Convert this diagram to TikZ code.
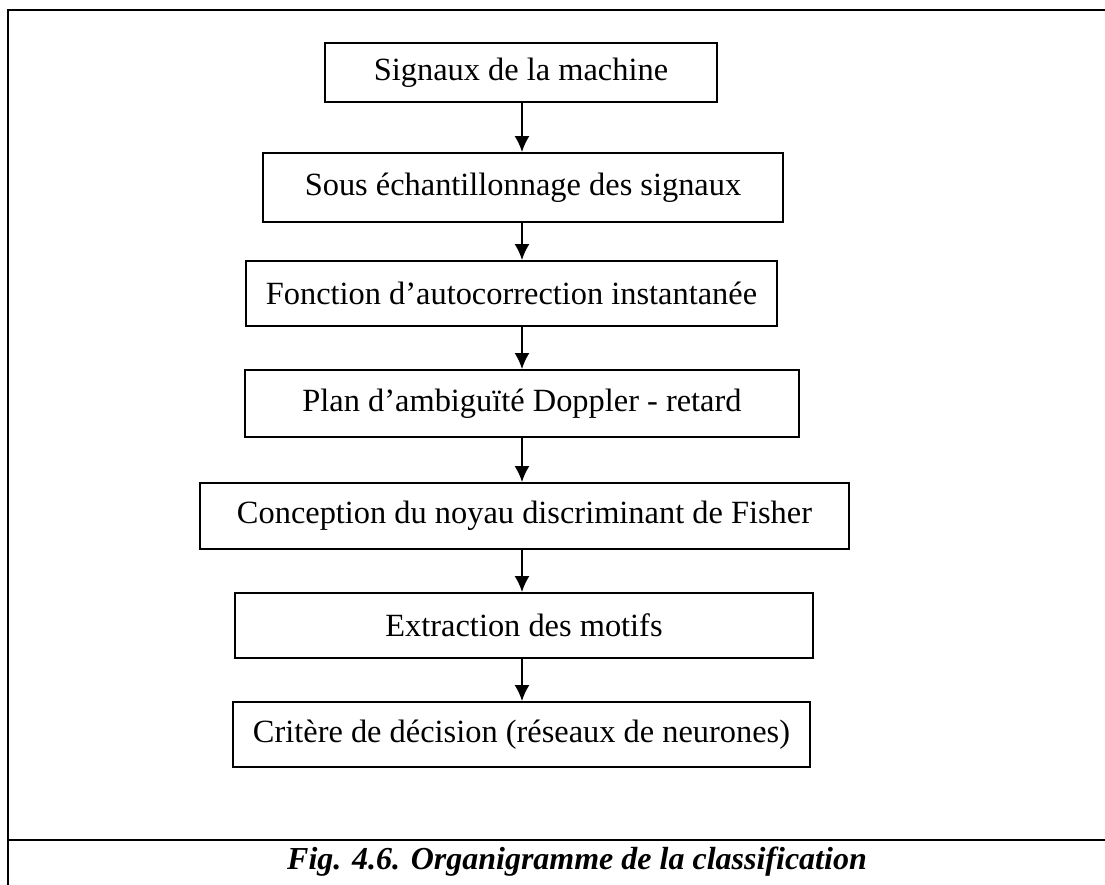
\documentclass[tikz,border=0pt]{standalone}
\usepackage{fontspec}
\setmainfont{Liberation Serif}
\usetikzlibrary{arrows.meta}
\tikzstyle{block} = [rectangle, draw, line width=1pt, inner sep=0pt, minimum height=33pt, font=\fontsize{16.2}{19}\selectfont]
\tikzstyle{frame} = [line width=1.4pt]

\begin{document}
\begin{tikzpicture}[x=0.5pt, y=-0.5pt, >={Latex[length=8pt,width=7.5pt]}]
        \useasboundingbox (0,0) rectangle (1105,885);
        % outer frame and caption line
        \draw[frame] (8,890) -- (8,10) -- (1110,10);
        \draw[frame] (8,840) -- (1110,840);

        \node[block, minimum width=196pt, minimum height=29.5pt] (signaux) at (521,72.5) {Signaux de la machine};
        \node[block, minimum width=260pt, minimum height=34.5pt] (sousech) at (523,187.5) {Sous échantillonnage des signaux};
        \node[block, minimum width=265.5pt, minimum height=32.5pt] (autocorr) at (511.5,293.5) {Fonction d’autocorrection instantanée};
        \node[block, minimum width=277pt, minimum height=33.5pt] (ambig) at (522,403.5) {Plan d’ambiguïté Doppler - retard};
        \node[block, minimum width=324.5pt] (noyau) at (524.5,516) {Conception du noyau discriminant de Fisher};
        \node[block, minimum width=289pt, minimum height=32.5pt] (motifs) at (524,625.5) {Extraction des motifs};
        \node[block, minimum width=288.5pt, minimum height=32.5pt] (decision) at (521.5,734.5) {Critère de décision (réseaux de neurones)};

        \coordinate (axis) at (522,0);
        \draw[->, line width=0.8pt] (signaux.south -| axis) -- (sousech.north -| axis);
        \draw[->, line width=0.8pt] (sousech.south -| axis) -- (autocorr.north -| axis);
        \draw[->, line width=0.8pt] (autocorr.south -| axis) -- (ambig.north -| axis);
        \draw[->, line width=0.8pt] (ambig.south -| axis) -- (noyau.north -| axis);
        \draw[->, line width=0.8pt] (noyau.south -| axis) -- (motifs.north -| axis);
        \draw[->, line width=0.8pt] (motifs.south -| axis) -- (decision.north -| axis);

        \node[anchor=base, font=\fontsize{16}{19}\selectfont\bfseries\itshape] (caption) at (577,869) {Fig. 4.6. Organigramme de la classification};
    \end{tikzpicture}
\end{document}
